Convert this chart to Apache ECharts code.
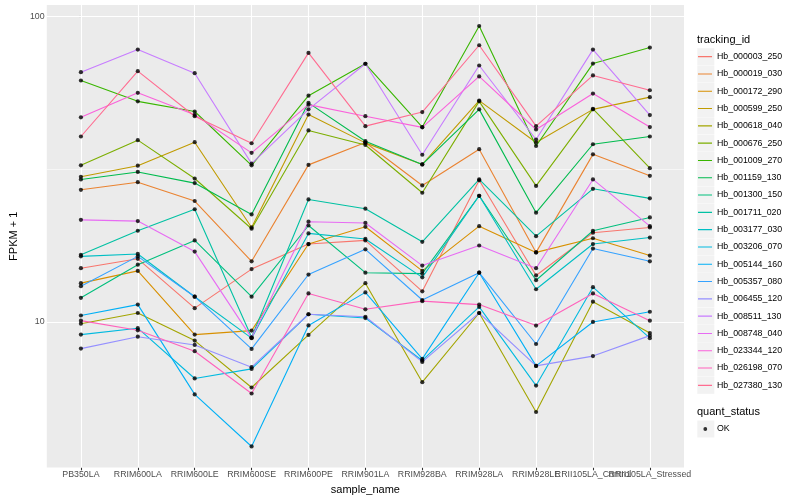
<!DOCTYPE html>
<html><head><meta charset="utf-8">
<script src="https://cdn.jsdelivr.net/npm/echarts@6/dist/echarts.min.js"></script>
<style>html,body{margin:0;padding:0;background:#fff}#c{width:800px;height:500px}</style>
</head><body><div id="c"></div>
<script>
// ---- data ----
const categories = ['PB350LA','RRIM600LA','RRIM600LE','RRIM600SE','RRIM600PE','RRIM901LA','RRIM928BA','RRIM928LA','RRIM928LE','RRII105LA_Control','RRII105LA_Stressed'];
const trackingIds = ['Hb_000003_250','Hb_000019_030','Hb_000172_290','Hb_000599_250','Hb_000618_040','Hb_000676_250','Hb_001009_270','Hb_001159_130','Hb_001300_150','Hb_001711_020','Hb_003177_030','Hb_003206_070','Hb_005144_160','Hb_005357_080','Hb_006455_120','Hb_008511_130','Hb_008748_040','Hb_023344_120','Hb_026198_070','Hb_027380_130'];
const Hb_000003_250 = [15.0,16.1,11.1,14.9,18.0,18.5,12.6,29.1,14.2,19.6,20.4];
const Hb_000019_030 = [27.1,28.7,24.9,15.8,32.7,38.7,28.0,36.8,16.9,35.4,30.1];
const Hb_000172_290 = [13.4,14.7,9.09,9.37,18.0,20.5,14.7,20.6,16.9,18.8,16.5];
const Hb_000599_250 = [29.9,32.5,38.8,20.4,47.8,38.6,32.8,53.1,38.7,49.7,54.5];
const Hb_000618_040 = [9.87,10.7,8.69,6.10,9.07,13.4,6.35,10.7,5.07,11.65,9.2];
const Hb_000676_250 = [32.6,39.4,29.5,20.2,42.4,38.0,26.5,52.8,27.9,49.9,31.9];
const Hb_001009_270 = [61.8,52.8,48.9,32.6,55.1,70.1,43.5,93.2,37.7,70.2,79.2];
const Hb_001159_130 = [29.3,31.0,28.5,22.5,52.2,39.1,32.8,49.7,22.8,38.2,40.5];
const Hb_001300_150 = [12.0,15.4,18.5,12.1,20.7,14.5,14.4,25.9,13.7,19.9,22.0];
const Hb_001711_020 = [16.6,19.9,23.4,8.91,25.2,23.5,18.3,29.3,19.1,27.3,25.4];
const Hb_003177_030 = [16.4,16.7,12.1,8.85,19.5,18.7,14.0,25.9,12.8,18.0,18.9];
const Hb_003206_070 = [9.09,9.54,6.53,7.02,10.6,10.3,7.48,11.2,6.19,13.0,8.85];
const Hb_005144_160 = [10.5,11.4,5.79,3.91,9.74,12.5,7.57,14.5,7.18,10.0,10.8];
const Hb_005357_080 = [13.1,16.4,12.1,8.16,14.3,17.3,11.8,14.5,8.47,17.4,15.8];
const Hb_006455_120 = [8.18,8.95,8.41,7.11,10.6,10.4,7.40,10.7,7.18,7.73,9.02];
const Hb_008511_130 = [65.8,78.0,65.3,33.0,49.7,70.1,35.3,69.2,39.6,78.0,47.6];
const Hb_008748_040 = [21.6,21.4,17.0,8.87,21.3,21.1,15.3,17.8,15.0,29.3,20.6];
const Hb_023344_120 = [46.8,56.3,47.7,35.8,51.5,47.2,43.4,63.7,42.7,56.0,43.5];
const Hb_026198_070 = [10.1,9.39,8.02,5.83,12.4,11.0,11.7,11.4,9.73,12.4,10.1];
const Hb_027380_130 = [40.5,66.3,47.2,38.5,76.1,43.8,48.7,80.6,43.8,64.2,57.4];
const yTickValues = [10, 100];
const yMinorGrid = [31.62];
const quantStatus = 'OK';

// ---- build ----
const seriesValues = [Hb_000003_250,Hb_000019_030,Hb_000172_290,Hb_000599_250,Hb_000618_040,Hb_000676_250,Hb_001009_270,Hb_001159_130,Hb_001300_150,Hb_001711_020,Hb_003177_030,Hb_003206_070,Hb_005144_160,Hb_005357_080,Hb_006455_120,Hb_008511_130,Hb_008748_040,Hb_023344_120,Hb_026198_070,Hb_027380_130];
const palette = ['#F8766D','#EA8331','#D89000','#C09B00','#A3A500','#7CAE00','#39B600','#00BB4E','#00BF7D','#00C1A3','#00BFC4','#00BAE0','#00B0F6','#35A2FF','#9590FF','#C77CFF','#E76BF3','#FA62DB','#FF62BC','#FF6C91'];
const FONT = '"Liberation Sans", Arial, sans-serif';
const idx = categories.map((c, i) => i);
const evenIdx = idx.filter(i => i % 2 === 0);
const oddIdx = idx.filter(i => i % 2 === 1);

const lineSeries = trackingIds.map((id, k) => ({
  name: id, type: 'line', symbol: 'none', showSymbol: false, silent: true, z: 2,
  data: seriesValues[k].map((v, i) => [i, v]),
  lineStyle: {width: 1.1, color: palette[k]},
  itemStyle: {color: palette[k]}
}));

const gridLines = [].concat(
  idx.map(i => ({xAxis: i})),
  yTickValues.map(v => ({yAxis: v})),
  yMinorGrid.map(v => ({yAxis: v, lineStyle: {width: 0.55}}))
);

const pointSeries = {
  name: quantStatus, type: 'scatter', symbol: 'circle', symbolSize: 4.2, silent: true, z: 3,
  itemStyle: {color: '#000'},
  data: seriesValues.flatMap(arr => arr.map((v, i) => [i, v])),
  markLine: {silent: true, symbol: 'none', z: 1, animation: false,
    label: {show: false},
    lineStyle: {color: '#FFFFFF', width: 1.1, type: 'solid', opacity: 1},
    emphasis: {disabled: true},
    data: gridLines}
};

function makeX(values, withName) {
  return {
    type: 'value', min: -0.6, max: 10.6, position: 'bottom', offset: 0,
    name: withName ? 'sample_name' : '', nameLocation: 'middle', nameGap: 14.5,
    nameTextStyle: {color: '#000', fontSize: 11, fontFamily: FONT},
    axisLine: {show: false},
    axisTick: {show: true, length: 2.7, lineStyle: {color: '#333333', width: 1.07}, customValues: values},
    axisLabel: {show: true, customValues: values, color: '#4D4D4D', fontSize: 8.8, fontFamily: FONT, margin: 2.5,
      hideOverlap: false, showMinLabel: true, showMaxLabel: true,
      formatter: v => categories[Math.round(v)]},
    splitLine: {show: false}
  };
}

const LEG_TOP = 48, ROW = 17.3;
const lineIcon = 'path://M0,0 L0.01,0 M14,17.3 L13.99,17.3 M0,8.1 L14,8.1 L14,9.2 L0,9.2 Z';
const dotIcon = 'path://M0,0 L0.01,0 M14,17.3 L13.99,17.3 M5.4,8.65 A1.9,1.9 0 1,0 9.2,8.65 A1.9,1.9 0 1,0 5.4,8.65 Z';

const keyBgs = trackingIds.map((id, i) => ({
  type: 'rect', left: 697.3, top: LEG_TOP + ROW * i + 0.15, z: -1,
  shape: {width: 17, height: 17}, style: {fill: '#F2F2F2'}
}));
keyBgs.push({type: 'rect', left: 697.3, top: 420.5, z: -1, shape: {width: 17, height: 17}, style: {fill: '#F2F2F2'}});

const option = {
  animation: false,
  backgroundColor: '#FFFFFF',
  textStyle: {fontFamily: FONT},
  grid: {left: 39.5, right: 116, top: 5, bottom: 31, show: true, backgroundColor: '#EBEBEB', borderWidth: 0, containLabel: false},
  xAxis: [makeX(evenIdx, true), makeX(oddIdx, false)],
  yAxis: {
    type: 'log', logBase: 10, min: 3.334, max: 109.2,
    name: 'FPKM + 1', nameLocation: 'middle', nameGap: 22, nameRotate: 90,
    nameTextStyle: {color: '#000', fontSize: 11, fontFamily: FONT},
    axisLine: {show: false},
    axisTick: {show: true, length: 2.7, lineStyle: {color: '#333333', width: 1.07}, customValues: yTickValues},
    axisLabel: {show: true, customValues: yTickValues, color: '#4D4D4D', fontSize: 8.8, fontFamily: FONT, margin: 2.2,
      showMinLabel: true, showMaxLabel: true,
      formatter: v => String(Math.round(v))},
    splitLine: {show: false}, minorSplitLine: {show: false}
  },
  legend: [{
    data: trackingIds, orient: 'vertical', left: 698, top: LEG_TOP, padding: 0, itemGap: 0,
    itemWidth: 14, itemHeight: ROW, icon: lineIcon, selectedMode: false,
    textStyle: {color: '#000', fontSize: 8.8, fontFamily: FONT}
  }, {
    data: [quantStatus], orient: 'vertical', left: 698, top: 420.35, padding: 0, itemGap: 0,
    itemWidth: 14, itemHeight: ROW, icon: dotIcon, selectedMode: false,
    textStyle: {color: '#000', fontSize: 8.8, fontFamily: FONT}
  }],
  graphic: keyBgs.concat([
    {type: 'text', left: 697, top: 34.5, style: {text: 'tracking_id', fill: '#000', font: '11px ' + FONT}},
    {type: 'text', left: 697, top: 406, style: {text: 'quant_status', fill: '#000', font: '11px ' + FONT}}
  ]),
  series: lineSeries.concat([pointSeries])
};
const chart = echarts.init(document.getElementById('c'), null, {renderer: 'canvas'});
chart.setOption(option);
</script></body></html>
